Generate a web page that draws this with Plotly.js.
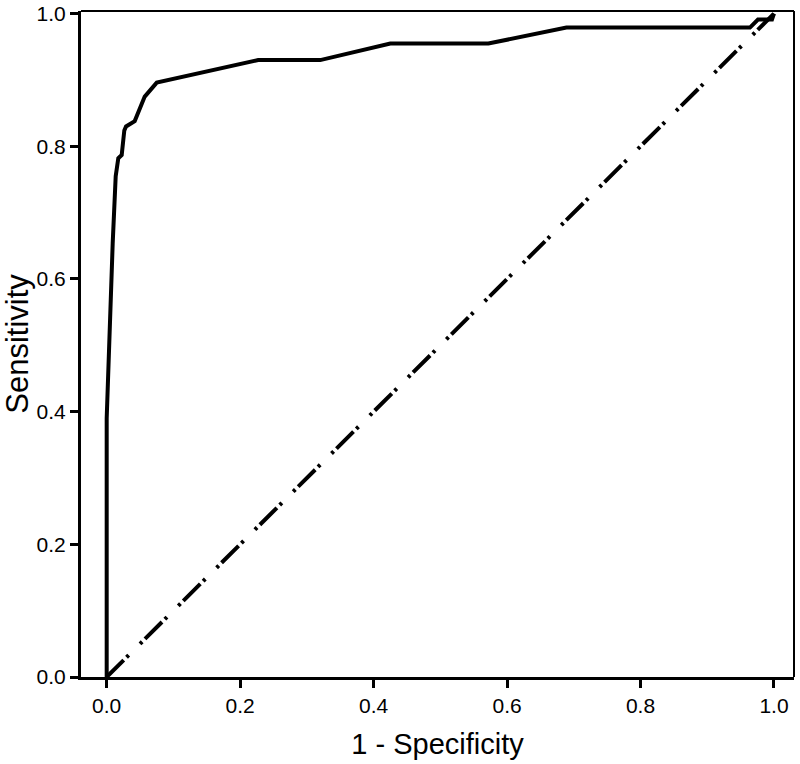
<!DOCTYPE html>
<html>
<head>
<meta charset="utf-8">
<script src="https://cdn.plot.ly/plotly-3.0.1.min.js"></script>
<style>
  html, body { margin: 0; padding: 0; background: #fff; }
  #chart { width: 800px; height: 764px; }
</style>
</head>
<body>
<div id="chart"></div>
<script>
// ROC curve
const fpr = [0, 0, 0.009, 0.011, 0.0135, 0.0174, 0.0225, 0.0264, 0.029, 0.042, 0.057, 0.075,
  0.227, 0.320, 0.425, 0.572, 0.689, 0.964, 0.976, 0.997, 1.0];
const tpr = [0, 0.39, 0.654, 0.714, 0.755, 0.782, 0.787, 0.824, 0.830, 0.838, 0.875, 0.896,
  0.930, 0.930, 0.955, 0.955, 0.979, 0.979, 0.991, 0.991, 1.0];

// reference diagonal
const refX = [0, 1];
const refY = [0, 1];

const tickVals = [0, 0.2, 0.4, 0.6, 0.8, 1.0];
const tickText = ['0.0', '0.2', '0.4', '0.6', '0.8', '1.0'];

var curve = {
  type: 'scatter',
  mode: 'lines',
  x: fpr,
  y: tpr,
  line: { color: '#000', width: 4 },
  hoverinfo: 'skip'
};

var diagonal = {
  type: 'scatter',
  mode: 'lines',
  x: refX,
  y: refY,
  line: { color: '#000', width: 4, dash: '24px,4px,3px,16px,3px,4px' },
  hoverinfo: 'skip'
};

var fam = 'Liberation Sans, Arial, sans-serif';
var axisFont = { family: fam, size: 21, color: '#000' };

var layout = {
  width: 800,
  height: 764,
  margin: { l: 81, r: 6, t: 11, b: 87 },
  paper_bgcolor: '#fff',
  plot_bgcolor: '#fff',
  showlegend: false,
  font: axisFont,
  xaxis: {
    range: [-0.0385, 1.030],
    tickvals: tickVals,
    ticktext: tickText,
    ticks: 'outside',
    ticklen: 8,
    tickwidth: 3,
    tickcolor: '#000',
    showline: true,
    linewidth: 3,
    linecolor: '#000',
    showgrid: false,
    zeroline: false,
    tickfont: axisFont,
    title: { text: '1 - Specificity', font: { family: fam, size: 29, color: '#000' }, standoff: 18 }
  },
  yaxis: {
    range: [0, 1.004],
    tickvals: tickVals,
    ticktext: tickText,
    ticks: 'outside',
    ticklen: 8,
    tickwidth: 3,
    tickcolor: '#000',
    showline: true,
    linewidth: 3,
    linecolor: '#000',
    showgrid: false,
    zeroline: false,
    tickfont: axisFont,
    title: { text: 'Sensitivity', font: { family: fam, size: 31, color: '#000' }, standoff: 6 }
  },
  shapes: [
    { type: 'line', xref: 'paper', yref: 'paper', x0: 0, x1: 1, y0: 1, y1: 1, line: { color: '#000', width: 2 } },
    { type: 'line', xref: 'paper', yref: 'paper', x0: 1, x1: 1, y0: 0, y1: 1, line: { color: '#000', width: 2 } }
  ]
};

Plotly.newPlot('chart', [diagonal, curve], layout, { staticPlot: true });
</script>
</body>
</html>
